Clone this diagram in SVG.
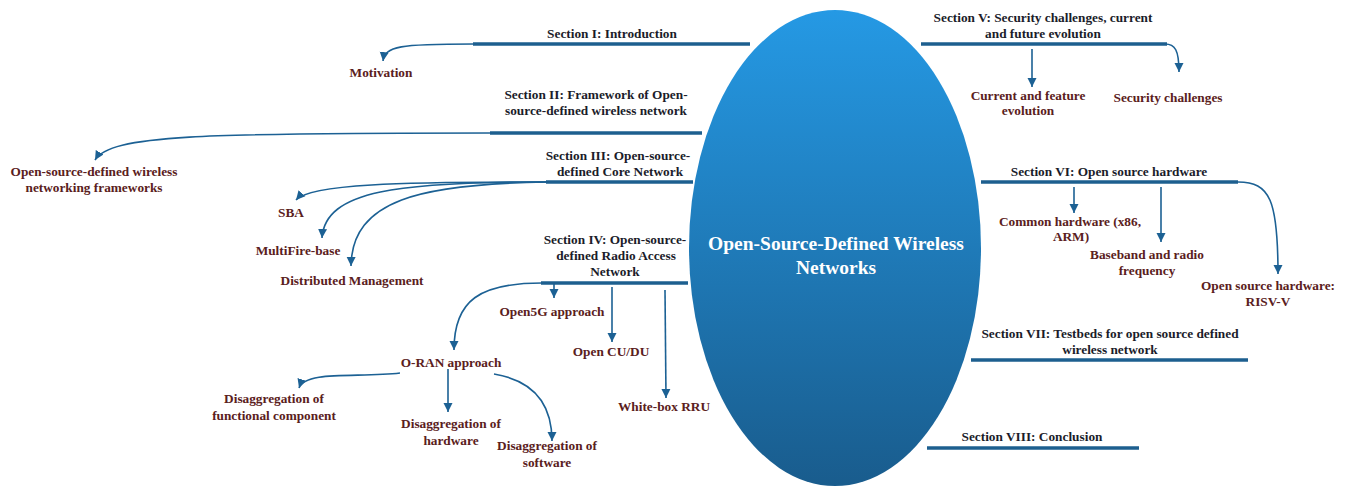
<svg xmlns="http://www.w3.org/2000/svg" width="1347" height="487" viewBox="0 0 1347 487">
<defs>
<linearGradient id="eg" x1="0" y1="0" x2="0" y2="1">
<stop offset="0" stop-color="#2599e4"/>
<stop offset="1" stop-color="#195c8d"/>
</linearGradient>
<marker id="ah" markerUnits="userSpaceOnUse" markerWidth="10" markerHeight="10" refX="9" refY="5" orient="auto" viewBox="0 0 10 10">
<path d="M0,0.5 L9,5 L0,9.5 z" fill="#1c6194"/>
</marker>
<style>
text{font-family:"Liberation Serif","Times New Roman",serif;font-weight:bold;font-size:13.3px;text-anchor:middle}
.sec{fill:#1b1c2a}
.leaf{fill:#5a2020}
.bar{stroke:#1d5f8f;stroke-width:3.5;fill:none}
.arr{stroke:#1c6194;stroke-width:1.6;fill:none;marker-end:url(#ah)}
.core{fill:#ffffff;font-size:19.5px}
</style>
</defs>
<rect width="1347" height="487" fill="#ffffff"/>
<g id="core">
<ellipse cx="835" cy="248" rx="146" ry="238" fill="url(#eg)"/>
<text class="core" x="836" y="250">Open-Source-Defined Wireless</text>
<text class="core" x="836" y="274">Networks</text>
</g>
<g id="connectors">
<path class="arr" d="M473,44 C400,44 385,46 383,61"/>
<path class="arr" d="M490,133 C200,133 110,135 95,160"/>
<path class="arr" d="M546,182 C400,182 310,184 296,200"/>
<path class="arr" d="M546,182 C400,182 325,190 322,238"/>
<path class="arr" d="M546,182 C420,184 352,200 351,266"/>
<path class="arr" d="M542,283 C480,283 454,300 454,350"/>
<path class="arr" d="M554,283 L554,298"/>
<path class="arr" d="M612,287 L612,342"/>
<path class="arr" d="M665,290 L666,398"/>
<path class="arr" d="M400,373 C360,378 305,370 299,388"/>
<path class="arr" d="M448,369 L448,412"/>
<path class="arr" d="M494,374 C530,380 552,400 552,441"/>
<path class="arr" d="M1032,49 L1032,87"/>
<path class="arr" d="M1165,44 C1175,44 1179,50 1179,72"/>
<path class="arr" d="M1074,187 L1074,213"/>
<path class="arr" d="M1161,187 L1161,242"/>
<path class="arr" d="M1238,182 C1270,182 1278,200 1278,274"/>
</g>
<g id="sec1">
<line class="bar" x1="473" y1="44" x2="750" y2="44"/>
<text class="sec" x="612" y="38">Section I: Introduction</text>
</g>
<g id="sec2">
<line class="bar" x1="490" y1="133" x2="702" y2="133"/>
<text class="sec" x="596" y="99">Section II: Framework of Open-</text>
<text class="sec" x="596" y="115">source-defined wireless network</text>
</g>
<g id="sec3">
<line class="bar" x1="546" y1="182" x2="693" y2="182"/>
<text class="sec" x="618" y="160">Section III: Open-source-</text>
<text class="sec" x="620" y="176">defined Core Network</text>
</g>
<g id="sec4">
<line class="bar" x1="541" y1="283" x2="688" y2="283"/>
<text class="sec" x="615" y="244">Section IV: Open-source-</text>
<text class="sec" x="616" y="260">defined Radio Access</text>
<text class="sec" x="615" y="276">Network</text>
</g>
<g id="sec5">
<line class="bar" x1="921" y1="44" x2="1167" y2="44"/>
<text class="sec" x="1043" y="22">Section V: Security challenges, current</text>
<text class="sec" x="1043" y="38">and future evolution</text>
</g>
<g id="sec6">
<line class="bar" x1="981" y1="182" x2="1238" y2="182"/>
<text class="sec" x="1109" y="176">Section VI: Open source hardware</text>
</g>
<g id="sec7">
<line class="bar" x1="971" y1="360" x2="1248" y2="360"/>
<text class="sec" x="1110" y="338">Section VII: Testbeds for open source defined</text>
<text class="sec" x="1110" y="354">wireless network</text>
</g>
<g id="sec8">
<line class="bar" x1="927" y1="448" x2="1139" y2="448"/>
<text class="sec" x="1032" y="441">Section VIII: Conclusion</text>
</g>
<g id="motivation"><text class="leaf" x="381" y="77">Motivation</text></g>
<g id="frameworks">
<text class="leaf" x="94" y="176">Open-source-defined wireless</text>
<text class="leaf" x="94" y="192">networking frameworks</text>
</g>
<g id="sba"><text class="leaf" x="291" y="217">SBA</text></g>
<g id="multifire"><text class="leaf" x="298" y="255">MultiFire-base</text></g>
<g id="distributed"><text class="leaf" x="352" y="285">Distributed Management</text></g>
<g id="open5g"><text class="leaf" x="552" y="316">Open5G approach</text></g>
<g id="opencudu"><text class="leaf" x="611" y="356">Open CU/DU</text></g>
<g id="whitebox"><text class="leaf" x="664" y="411">White-box RRU</text></g>
<g id="oran"><text class="leaf" x="451" y="367">O-RAN approach</text></g>
<g id="disfunc">
<text class="leaf" x="274" y="403">Disaggregation of</text>
<text class="leaf" x="274" y="420">functional component</text>
</g>
<g id="dishw">
<text class="leaf" x="451" y="428">Disaggregation of</text>
<text class="leaf" x="451" y="445">hardware</text>
</g>
<g id="dissw">
<text class="leaf" x="547" y="450">Disaggregation of</text>
<text class="leaf" x="547" y="467">software</text>
</g>
<g id="current">
<text class="leaf" x="1028" y="100">Current and feature</text>
<text class="leaf" x="1028" y="115">evolution</text>
</g>
<g id="security"><text class="leaf" x="1168" y="102">Security challenges</text></g>
<g id="common">
<text class="leaf" x="1070" y="226">Common hardware (x86,</text>
<text class="leaf" x="1071" y="241">ARM)</text>
</g>
<g id="baseband">
<text class="leaf" x="1147" y="259">Baseband and radio</text>
<text class="leaf" x="1147" y="275">frequency</text>
</g>
<g id="riscv">
<text class="leaf" x="1268" y="290">Open source hardware:</text>
<text class="leaf" x="1268" y="306">RISV-V</text>
</g>
</svg>
